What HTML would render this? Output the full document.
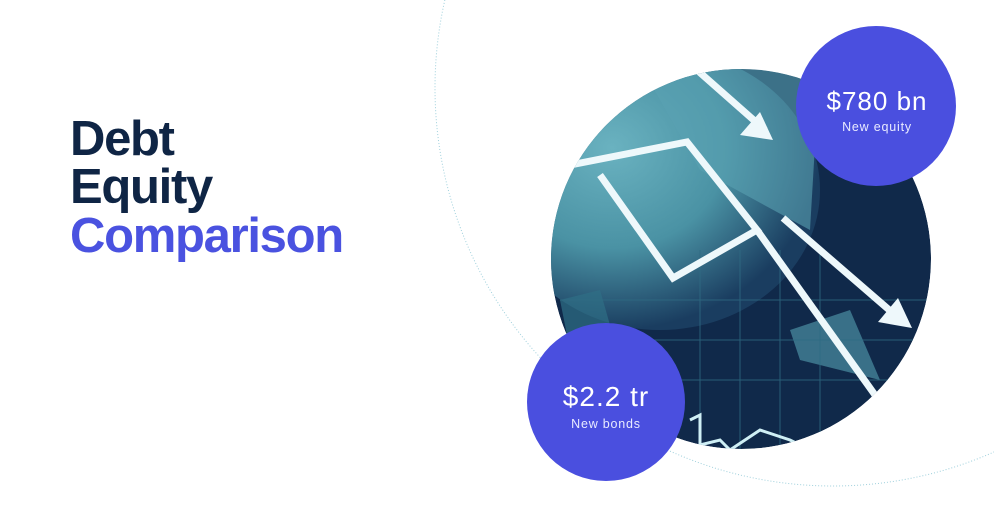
<!DOCTYPE html>
<html><head><meta charset="utf-8"><style>
html,body{margin:0;padding:0;background:#fff;}
#root{position:relative;width:994px;height:514px;overflow:hidden;background:#fff;}
.title{position:absolute;left:70px;font-family:"Liberation Sans",sans-serif;font-weight:bold;font-size:49px;letter-spacing:-1.3px;line-height:1;}
</style></head><body>
<div id="root">
<div class="title" style="top:115px;color:#0f2545;">Debt</div>
<div class="title" style="top:163px;color:#0f2545;">Equity</div>
<div class="title" style="top:212px;color:#4a52e0;">Comparison</div>
<svg width="994" height="514" style="position:absolute;left:0;top:0">
<defs>
<radialGradient id="g1" cx="0.35" cy="0.35" r="0.65">
<stop offset="0" stop-color="#6ab2c0"/><stop offset="0.55" stop-color="#4a92a4"/><stop offset="1" stop-color="#1a3d60"/>
</radialGradient>
<clipPath id="cp"><circle cx="741" cy="259" r="190"/></clipPath>
</defs>
<circle cx="833" cy="88" r="398" fill="none" stroke="#9fd0dc" stroke-width="1" stroke-dasharray="1,2"/>
<g clip-path="url(#cp)">
<circle cx="741" cy="259" r="190" fill="#10294a"/>
<ellipse cx="660" cy="190" rx="160" ry="140" fill="url(#g1)"/>
<path d="M640 65 L820 60 L810 230 L700 170Z" fill="#5aa2b3" opacity="0.6"/>
<path d="M790 330 L850 310 L880 380 L800 360Z" fill="#4c8fa2" opacity="0.7"/>
<path d="M560 300 L600 290 L620 360 L580 400Z" fill="#2f6f86" opacity="0.7"/>
<g stroke="#2f6b83" stroke-width="1" opacity="0.8">
<line x1="560" y1="300" x2="930" y2="300"/><line x1="560" y1="340" x2="930" y2="340"/><line x1="560" y1="380" x2="930" y2="380"/>
<line x1="700" y1="250" x2="700" y2="450"/><line x1="740" y1="250" x2="740" y2="450"/><line x1="780" y1="250" x2="780" y2="450"/><line x1="820" y1="250" x2="820" y2="450"/>
</g>
<polyline points="690,420 700,415 700,445 720,440 730,450 760,430 790,440 810,450" fill="none" stroke="#cfeff5" stroke-width="3"/>
<g fill="none" stroke="#eef8fb" stroke-width="7" stroke-linejoin="miter">
<line x1="697" y1="70" x2="765" y2="130"/>
<polyline points="555,168 687,142 757,230 673,278 600,175"/>
<line x1="757" y1="230" x2="875" y2="395"/>
<line x1="783" y1="218" x2="895" y2="315"/>
</g>
<polygon points="773,140 740,135 760,112" fill="#eef8fb"/>
<polygon points="912,328 878,322 898,298" fill="#eef8fb"/>
</g>
<circle cx="876" cy="106" r="80" fill="#4a4fdf"/>
<circle cx="606" cy="402" r="79" fill="#4a4fdf"/>
<text x="877" y="110" text-anchor="middle" fill="#fff" font-family="Liberation Sans, sans-serif" font-size="26" letter-spacing="1">$780 bn</text>
<text x="877" y="131" text-anchor="middle" fill="#e8eaff" font-family="Liberation Sans, sans-serif" font-size="12.5" letter-spacing="0.8">New equity</text>
<text x="606" y="406" text-anchor="middle" fill="#fff" font-family="Liberation Sans, sans-serif" font-size="28" letter-spacing="1">$2.2 tr</text>
<text x="606" y="428" text-anchor="middle" fill="#e8eaff" font-family="Liberation Sans, sans-serif" font-size="12.5" letter-spacing="0.8">New bonds</text>
</svg>
</div>
</body></html>
